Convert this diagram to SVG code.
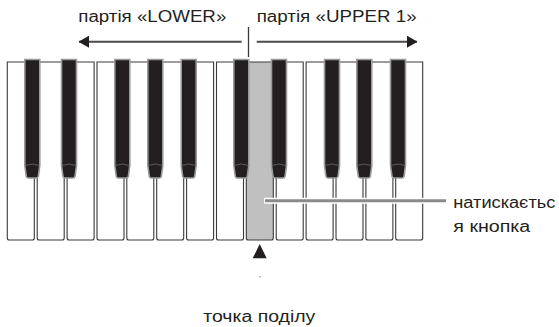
<svg xmlns="http://www.w3.org/2000/svg" width="559" height="327" viewBox="0 0 559 327">
<defs>
<style>
.wk{fill:#fff;stroke:#3a3a3a;stroke-width:1.1}
.wkp{fill:#c0c0c0;stroke:#3a3a3a;stroke-width:1.1}
.bk{fill:#231f20;stroke:#9a9a9a;stroke-width:1.6}
.bev{fill:none;stroke:#6a6a6a;stroke-width:0.8}
.t{font-family:"Liberation Sans",Arial,sans-serif;font-size:16px;fill:#231f20}
.arr{stroke:#4a4a4a;stroke-width:2;fill:none}
</style>
<marker id="ah" markerWidth="12" markerHeight="12" refX="10" refY="6" orient="auto-start-reverse" markerUnits="userSpaceOnUse">
<path d="M0,0 L10.5,6 L0,12 Z" fill="#231f20"/>
</marker>
<path id="wkey" d="M0,0 H27 V176 Q27,178 25,178 H2 Q0,178 0,176 Z"/>
<path id="bkey" d="M-7.5,0 H7.5 V106 L6,117 Q5.5,118.5 4,118.5 H-4 Q-5.5,118.5 -6,117 L-7.5,106 Z"/>
</defs>
<rect width="559" height="327" fill="#fff"/>
<g id="white-keys">
<use href="#wkey" class="wk" x="7.3" y="62"/>
<use href="#wkey" class="wk" x="37.2" y="62"/>
<use href="#wkey" class="wk" x="67.1" y="62"/>
<use href="#wkey" class="wk" x="97" y="62"/>
<use href="#wkey" class="wk" x="126.8" y="62"/>
<use href="#wkey" class="wk" x="156.7" y="62"/>
<use href="#wkey" class="wk" x="186.6" y="62"/>
<use href="#wkey" class="wk" x="216.5" y="62"/>
<use href="#wkey" class="wk" x="276.2" y="62"/>
<use href="#wkey" class="wk" x="306.1" y="62"/>
<use href="#wkey" class="wk" x="336" y="62"/>
<use href="#wkey" class="wk" x="365.9" y="62"/>
<use href="#wkey" class="wk" x="395.7" y="62"/>
</g>
<g id="pressed-key">
<use href="#wkey" class="wkp" x="246.3" y="62"/>
</g>
<g id="black-keys">
<g transform="translate(32.3,59.5)"><use href="#bkey" class="bk"/><path class="bev" d="M-7,106 Q0,103 7,106"/></g>
<g transform="translate(69,59.5)"><use href="#bkey" class="bk"/><path class="bev" d="M-7,106 Q0,103 7,106"/></g>
<g transform="translate(122.3,59.5)"><use href="#bkey" class="bk"/><path class="bev" d="M-7,106 Q0,103 7,106"/></g>
<g transform="translate(155.3,59.5)"><use href="#bkey" class="bk"/><path class="bev" d="M-7,106 Q0,103 7,106"/></g>
<g transform="translate(188.7,59.5)"><use href="#bkey" class="bk"/><path class="bev" d="M-7,106 Q0,103 7,106"/></g>
<g transform="translate(241.3,59.5)"><use href="#bkey" class="bk"/><path class="bev" d="M-7,106 Q0,103 7,106"/></g>
<g transform="translate(279,59.5)"><use href="#bkey" class="bk"/><path class="bev" d="M-7,106 Q0,103 7,106"/></g>
<g transform="translate(332,59.5)"><use href="#bkey" class="bk"/><path class="bev" d="M-7,106 Q0,103 7,106"/></g>
<g transform="translate(364.3,59.5)"><use href="#bkey" class="bk"/><path class="bev" d="M-7,106 Q0,103 7,106"/></g>
<g transform="translate(398,59.5)"><use href="#bkey" class="bk"/><path class="bev" d="M-7,106 Q0,103 7,106"/></g>
</g>
<g id="connectors">
<line class="arr" x1="241.7" y1="41.7" x2="79" y2="41.7" marker-end="url(#ah)"/>
<line class="arr" x1="256.7" y1="41.7" x2="417" y2="41.7" marker-end="url(#ah)"/>
<line x1="248.5" y1="27" x2="248.5" y2="57" stroke="#3a3a3a" stroke-width="1.3"/>
<line x1="264" y1="200.7" x2="446" y2="200.7" stroke="#fff" stroke-width="6"/>
<line x1="265" y1="200.7" x2="446" y2="200.7" stroke="#8a8a8a" stroke-width="3"/>
</g>
<g id="split-marker">
<path d="M259.7,244 L266.7,258.3 L252.7,258.3 Z" fill="#231f20"/>
<circle cx="260" cy="276.7" r="0.7" fill="#777"/>
</g>
<g id="label-lower"><text class="t" x="78.3" y="22" textLength="148" lengthAdjust="spacingAndGlyphs">партія «LOWER»</text></g>
<g id="label-upper"><text class="t" x="256.7" y="22" textLength="160" lengthAdjust="spacingAndGlyphs">партія «UPPER 1»</text></g>
<g id="label-pressed">
<text class="t" x="453.3" y="208" textLength="102" lengthAdjust="spacingAndGlyphs">натискаєтьс</text>
<text class="t" x="453.3" y="232" textLength="77" lengthAdjust="spacingAndGlyphs">я кнопка</text>
</g>
<g id="label-split"><text class="t" x="203.3" y="321.5" textLength="112" lengthAdjust="spacingAndGlyphs">точка поділу</text></g>
</svg>
